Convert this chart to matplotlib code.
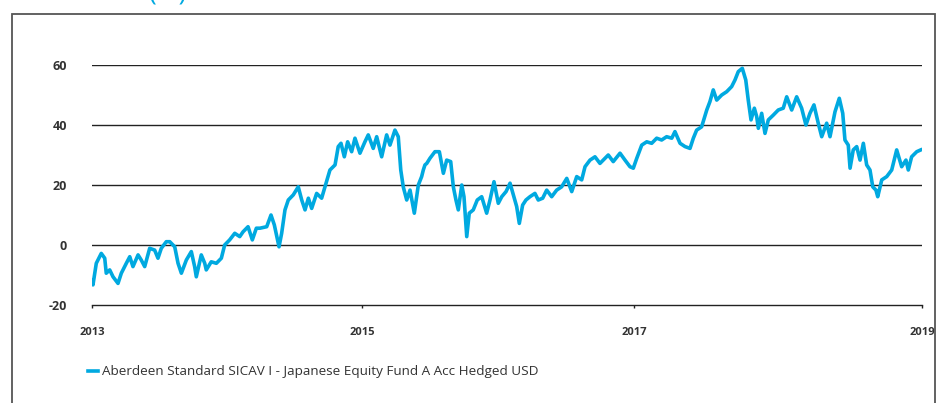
import matplotlib as mpl
mpl.use('Agg')
import matplotlib.pyplot as plt
from matplotlib.patches import Rectangle

# fund performance (%), dates as decimal years
dates = [
    2013.000, 2013.007, 2013.031, 2013.067, 2013.092, 2013.103, 2013.128, 2013.152,
    2013.188, 2013.212, 2013.248, 2013.273, 2013.296, 2013.333, 2013.356, 2013.381,
    2013.417, 2013.453, 2013.477, 2013.501, 2013.537, 2013.562, 2013.598, 2013.622,
    2013.646, 2013.682, 2013.718, 2013.742, 2013.754, 2013.790, 2013.815, 2013.826,
    2013.862, 2013.899, 2013.935, 2013.959, 2013.995, 2014.032, 2014.068, 2014.092,
    2014.128, 2014.159, 2014.188, 2014.214, 2014.263, 2014.294, 2014.318, 2014.352,
    2014.371, 2014.395, 2014.419, 2014.455, 2014.491, 2014.516, 2014.540, 2014.564,
    2014.588, 2014.624, 2014.660, 2014.684, 2014.720, 2014.757, 2014.780, 2014.800,
    2014.824, 2014.848, 2014.877, 2014.901, 2014.937, 2014.973, 2014.997, 2015.033,
    2015.058, 2015.094, 2015.130, 2015.154, 2015.190, 2015.214, 2015.232, 2015.250,
    2015.275, 2015.299, 2015.330, 2015.359, 2015.383, 2015.395, 2015.407, 2015.420,
    2015.443, 2015.479, 2015.511, 2015.540, 2015.564, 2015.593, 2015.612, 2015.631,
    2015.648, 2015.673, 2015.689, 2015.709, 2015.727, 2015.756, 2015.785, 2015.817,
    2015.853, 2015.877, 2015.906, 2015.937, 2015.962, 2015.993, 2016.022, 2016.046,
    2016.070, 2016.089, 2016.113, 2016.137, 2016.166, 2016.202, 2016.226, 2016.258,
    2016.287, 2016.323, 2016.359, 2016.395, 2016.432, 2016.468, 2016.504, 2016.540,
    2016.564, 2016.600, 2016.636, 2016.672, 2016.708, 2016.732, 2016.768, 2016.817,
    2016.853, 2016.889, 2016.913, 2016.938, 2016.974, 2017.010, 2017.046, 2017.082,
    2017.118, 2017.154, 2017.191, 2017.214, 2017.251, 2017.287, 2017.323, 2017.347,
    2017.371, 2017.407, 2017.444, 2017.467, 2017.491, 2017.516, 2017.552, 2017.588,
    2017.624, 2017.648, 2017.672, 2017.701, 2017.726, 2017.744, 2017.764, 2017.788,
    2017.805, 2017.817, 2017.841, 2017.865, 2017.889, 2017.925, 2017.961, 2017.997,
    2018.022, 2018.058, 2018.094, 2018.130, 2018.161, 2018.190, 2018.219, 2018.250,
    2018.275, 2018.311, 2018.335, 2018.371, 2018.402, 2018.427, 2018.443, 2018.467,
    2018.480, 2018.503, 2018.528, 2018.552, 2018.576, 2018.600, 2018.624, 2018.644,
    2018.667, 2018.680, 2018.709, 2018.745, 2018.781, 2018.817, 2018.853, 2018.884,
    2018.901, 2018.925, 2018.962, 2018.991,
]
values = [
    -11.7, -13.3, -6.1, -2.8, -4.4, -9.4, -8.3, -10.6,
    -12.8, -9.4, -6.1, -3.9, -7.2, -3.3, -5.0, -7.2,
    -1.1, -1.7, -4.4, -1.1, 1.1, 1.1, -0.6, -6.1,
    -9.4, -5.0, -2.2, -7.2, -10.6, -3.3, -6.1, -8.3,
    -5.6, -6.1, -4.4, 0.0, 1.7, 3.9, 2.8, 4.4,
    6.1, 1.7, 5.6, 5.6, 6.1, 10.0, 6.7, -0.6,
    3.9, 11.7, 15.0, 16.7, 19.4, 15.0, 11.7, 15.6,
    12.2, 17.2, 15.6, 19.4, 25.0, 26.7, 32.8, 33.9,
    29.4, 34.4, 31.1, 35.6, 30.6, 34.4, 36.7, 32.2,
    36.1, 29.4, 36.7, 33.3, 38.3, 36.1, 25.0, 19.4,
    15.0, 18.3, 10.6, 20.0, 22.8, 25.0, 26.7, 27.2,
    28.9, 31.1, 31.1, 23.9, 28.3, 27.8, 19.4, 15.0,
    11.7, 20.0, 16.1, 2.8, 10.6, 11.7, 15.0, 16.1,
    10.6, 15.0, 21.1, 13.9, 16.1, 17.8, 20.6, 16.7,
    12.8, 7.2, 13.3, 15.0, 16.1, 17.2, 15.0, 15.6,
    18.3, 16.1, 18.3, 19.4, 22.2, 17.8, 22.8, 21.7,
    26.1, 28.3, 29.4, 27.2, 28.9, 30.0, 27.8, 30.6,
    28.3, 26.1, 25.6, 28.9, 33.3, 34.4, 33.9, 35.6,
    35.0, 36.1, 35.6, 37.8, 33.9, 32.8, 32.2, 35.6,
    38.3, 39.4, 45.0, 47.8, 51.7, 48.3, 50.0, 51.1,
    52.8, 55.0, 57.8, 58.9, 55.0, 48.3, 41.7, 45.6,
    42.8, 38.9, 43.9, 37.2, 41.7, 43.3, 45.0, 45.6,
    49.4, 45.0, 49.4, 45.6, 40.0, 43.9, 46.7, 40.6,
    36.1, 40.6, 36.1, 44.4, 48.9, 43.9, 35.0, 33.3,
    25.6, 31.7, 32.8, 28.3, 33.9, 26.7, 25.0, 19.4,
    18.3, 16.1, 21.7, 22.8, 25.0, 31.7, 26.1, 28.3,
    25.0, 29.4, 31.1, 31.7,
]

year_ticks = [2013, 2014.952, 2016.918, 2019]
year_labels = ['2013', '2015', '2017', '2019']
y_ticks = [-20, 0, 20, 40, 60]
series_name = 'Aberdeen Standard SICAV I - Japanese Equity Fund A Acc Hedged USD'

plt.rcParams['font.family'] = ['Open Sans', 'DejaVu Sans']
plt.rcParams['axes.unicode_minus'] = False

fig = plt.figure(figsize=(9.46, 4.03), dpi=100)
ax = fig.add_axes([92/946, 1 - 305/403, 830/946, 240/403])

blue = '#00a9e0'
line, = ax.plot(dates, values, color=blue, lw=2.6, solid_joinstyle='round')

ax.set_xlim(2013, 2019)
ax.set_ylim(-20, 60)
ax.set_yticks(y_ticks)
ax.set_xticks(year_ticks)
ax.set_xticklabels(year_labels)

for v in y_ticks[1:]:
    ax.axhline(v, color='#222222', lw=1.0, zorder=0)

for s in ['top', 'right', 'left']:
    ax.spines[s].set_visible(False)
ax.spines['bottom'].set_color('#222222')
ax.spines['bottom'].set_linewidth(1.0)

ax.tick_params(axis='y', length=0, pad=18, labelsize=9, labelcolor='#333333')
ax.tick_params(axis='x', length=2.5, width=1, color='#222222', pad=13,
               labelsize=8, labelcolor='#333333')
for t in ax.get_xticklabels() + ax.get_yticklabels():
    t.set_fontweight('bold')

leg = fig.legend([line], [series_name], loc='center left',
                 bbox_to_anchor=(88/946, 1 - 372/403), frameon=False,
                 handlelength=0.75, handletextpad=0.3, fontsize=9.7,
                 labelcolor='#333333', borderaxespad=0, borderpad=0)

# frame around the panel
fig.patches.append(Rectangle((12/946, -0.05), 923/946, 1.05 - 14/403,
                             transform=fig.transFigure, fill=False,
                             edgecolor='#555555', lw=1.3))
# title cut off at the top edge
fig.text(168/946, 1 + 1/403, '(%)', color=blue, fontsize=19,
         ha='center', va='baseline')

fig.savefig('out.png', dpi=100)
